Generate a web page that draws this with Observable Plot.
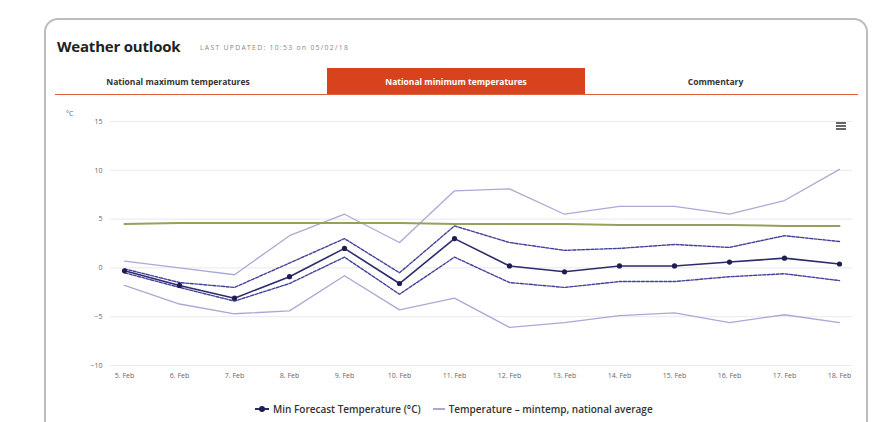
<!DOCTYPE html>
<html>
<head>
<meta charset="utf-8">
<script src="https://cdn.jsdelivr.net/npm/d3@7"></script>
<script src="https://cdn.jsdelivr.net/npm/@observablehq/plot@0.6"></script>
<style>
  html, body { margin: 0; padding: 0; background: #fff; width: 881px; height: 422px; overflow: hidden; font-family: "Open Sans", "Noto Sans", sans-serif; }
  #card { position: absolute; left: 44px; top: 18px; width: 824px; height: 430px; border: 2px solid #bdbdbd; border-radius: 14px; box-sizing: border-box; }
  #title { position: absolute; left: 57px; top: 36px; font-size: 15px; font-weight: 700; color: #222; letter-spacing: -0.2px; }
  #updated { position: absolute; left: 200px; top: 43px; font-size: 6.8px; letter-spacing: 1.3px; color: #888; }
  #tabs { position: absolute; left: 55px; top: 68px; width: 803px; height: 26px; border-bottom: 1.5px solid #e0603a; display: flex; }
  .tab { flex: 0 0 auto; display: flex; align-items: center; justify-content: center; font-size: 8.5px; font-weight: 700; color: #333; box-sizing: border-box; }
  .tab.active { background: #d8431d; color: #fff; }
  #chart { position: absolute; left: 0; top: 100px; }
  #unit { position: absolute; left: 66px; top: 109px; font-size: 7px; color: #666; }
  #menu { position: absolute; left: 836px; top: 122px; width: 10px; }
  #menu div { height: 1.6px; background: #666; margin-bottom: 1.6px; }
  #legend { position: absolute; top: 402px; left: 255px; display: flex; gap: 12px; font-size: 10px; font-weight: 600; color: #333; white-space: nowrap; }
  #legend span { display: inline-flex; align-items: center; gap: 4px; }
</style>
</head>
<body>
<div id="card"></div>
<div id="title">Weather outlook</div>
<div id="updated">LAST UPDATED: 10:53 on 05/02/18</div>
<div id="tabs">
  <div class="tab" style="width:272px;padding-right:26px">National maximum temperatures</div>
  <div class="tab active" style="width:258px">National minimum temperatures</div>
  <div class="tab" style="width:273px;padding-right:12px">Commentary</div>
</div>
<div id="chart"></div>
<div id="unit">°C</div>
<div id="menu"><div></div><div></div><div></div></div>
<div id="legend"></div>
<script>
const days = ["5. Feb","6. Feb","7. Feb","8. Feb","9. Feb","10. Feb","11. Feb","12. Feb","13. Feb","14. Feb","15. Feb","16. Feb","17. Feb","18. Feb"];
const median  = [-0.3, -1.8, -3.1, -0.9, 2.0, -1.6, 3.0, 0.2, -0.4, 0.2, 0.2, 0.6, 1.0, 0.4];
const upperQ  = [-0.1, -1.5, -2.0, 0.5, 3.0, -0.5, 4.3, 2.6, 1.8, 2.0, 2.4, 2.1, 3.3, 2.7];
const lowerQ  = [-0.5, -2.0, -3.4, -1.6, 1.1, -2.7, 1.1, -1.5, -2.0, -1.4, -1.4, -0.9, -0.6, -1.3];
const maxT    = [0.7, 0.0, -0.7, 3.3, 5.5, 2.6, 7.9, 8.1, 5.5, 6.3, 6.3, 5.5, 6.9, 10.1];
const minT    = [-1.8, -3.7, -4.7, -4.4, -0.8, -4.3, -3.1, -6.1, -5.6, -4.9, -4.6, -5.6, -4.8, -5.6];
const average = [4.5, 4.6, 4.6, 4.6, 4.6, 4.6, 4.5, 4.5, 4.5, 4.4, 4.4, 4.4, 4.3, 4.3];
const yTicks  = [-10, -5, 0, 5, 10, 15];

const rows = days.map((d, i) => ({day: d, median: median[i], upper: upperQ[i], lower: lowerQ[i], max: maxT[i], min: minT[i], avg: average[i]}));

const C = { thin: "#aaa9d6", dash: "#43429a", med: "#2c2b6c", avg: "#95a05c", grid: "#e8e8ee", text: "#666" };

const chart = Plot.plot({
  width: 881,
  height: 300,
  marginLeft: 110,
  marginRight: 29,
  marginTop: 21,
  marginBottom: 35,
  style: { fontFamily: "'Open Sans', 'Noto Sans', sans-serif", fontSize: "7px", color: C.text, background: "transparent" },
  x: { type: "point", domain: days, padding: 0.2, label: null },
  y: { domain: [-10, 15], label: null },
  marks: [
    Plot.ruleY(yTicks, { stroke: C.grid, strokeWidth: 1 }),
    Plot.axisY({ ticks: yTicks, tickSize: 0, tickPadding: 8, label: null, fill: C.text }),
    Plot.axisX({ tickSize: 0, tickPadding: 8, label: null, fill: C.text }),
    Plot.lineY(rows, { x: "day", y: "max", stroke: C.thin, strokeWidth: 1.3 }),
    Plot.lineY(rows, { x: "day", y: "min", stroke: C.thin, strokeWidth: 1.3 }),
    Plot.lineY(rows, { x: "day", y: "avg", stroke: C.avg, strokeWidth: 2 }),
    Plot.lineY(rows, { x: "day", y: "upper", stroke: C.dash, strokeWidth: 1.4, strokeDasharray: "3,1.5" }),
    Plot.lineY(rows, { x: "day", y: "lower", stroke: C.dash, strokeWidth: 1.4, strokeDasharray: "3,1.5" }),
    Plot.lineY(rows, { x: "day", y: "median", stroke: C.med, strokeWidth: 1.6 }),
    Plot.dot(rows, { x: "day", y: "median", r: 2.6, fill: "#1e1d50", stroke: "none" })
  ]
});
document.getElementById("chart").appendChild(chart);

const legend = document.getElementById("legend");
legend.innerHTML = `
  <span><svg width="14" height="8"><line x1="0" y1="4" x2="14" y2="4" stroke="${C.med}" stroke-width="2"/><circle cx="7" cy="4" r="3" fill="#1e1d50"/></svg>Min Forecast Temperature (°C)</span>
  <span><svg width="12" height="8"><line x1="0" y1="4" x2="12" y2="4" stroke="${C.thin}" stroke-width="2"/></svg>Temperature – mintemp, national average</span>`;
</script>
</body>
</html>
